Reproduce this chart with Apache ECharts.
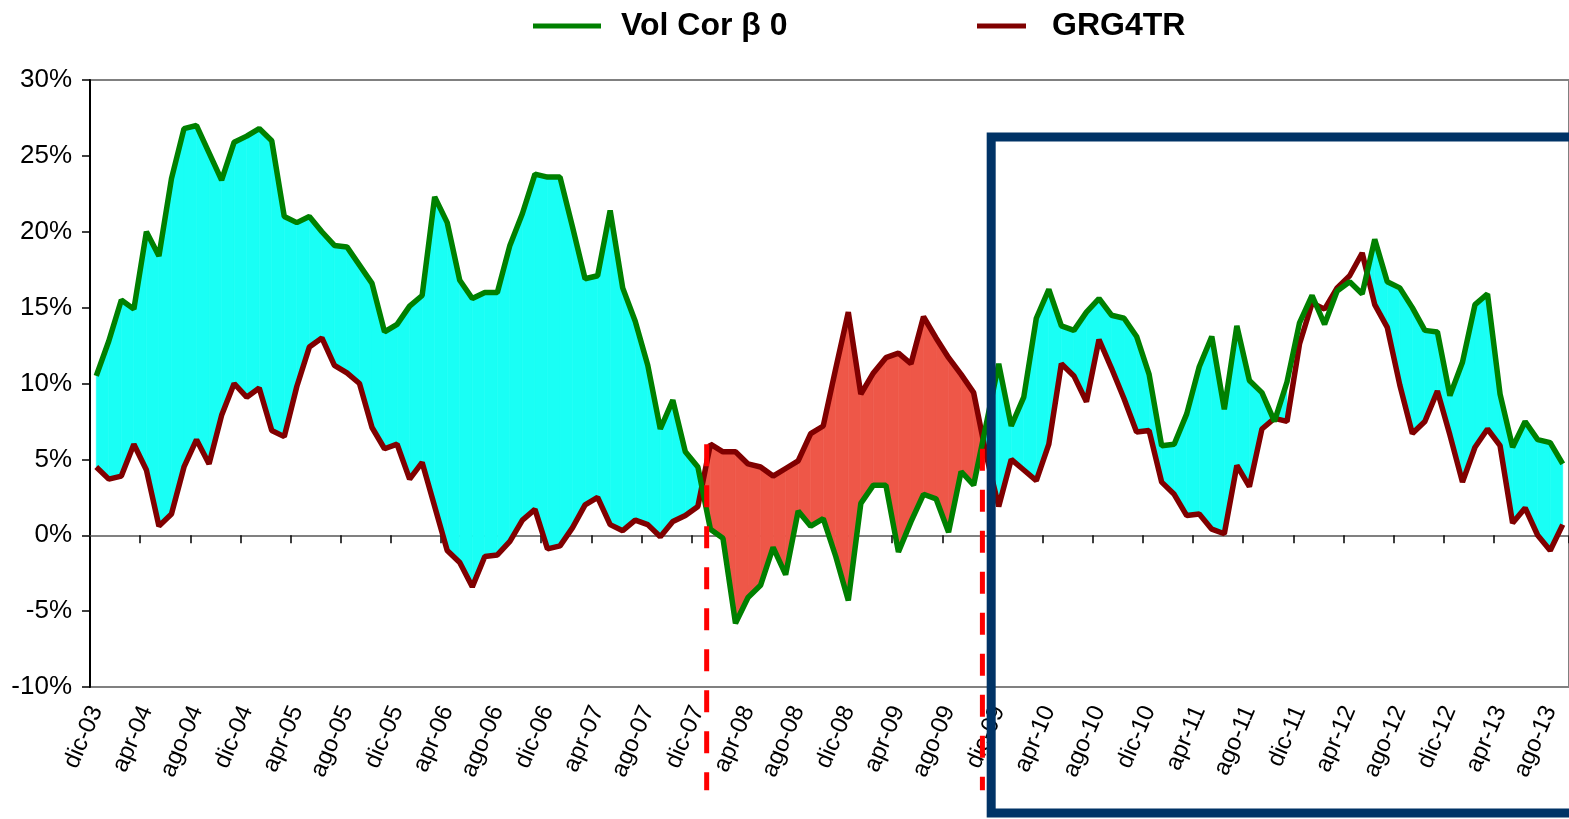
<!DOCTYPE html>
<html>
<head>
<meta charset="utf-8">
<script src="https://cdn.jsdelivr.net/npm/echarts@6/dist/echarts.min.js"></script>
<style>
  html, body { margin: 0; padding: 0; background: #fff; }
  #chart { width: 1569px; height: 819px; }
</style>
</head>
<body>
<div id="chart"></div>
<script>
// mesi: dic-03 ... set-13 (118 punti mensili)
const monthNames = ['gen', 'feb', 'mar', 'apr', 'mag', 'giu', 'lug', 'ago', 'set', 'ott', 'nov', 'dic'];
const months = [];
for (let k = 11; k < 11 + 118; k++) {
  months.push(monthNames[k % 12] + '-' + String(3 + Math.floor(k / 12)).padStart(2, '0'));
}

// Vol Cor β 0 (%)
const volCor = [
  10.5, 12.8, 15.5, 14.9, 20.0, 18.4, 23.5, 26.8, 27.0, 25.2,
  23.4, 25.9, 26.3, 26.8, 26.0, 21.0, 20.6, 21.0, 20.0, 19.1,
  19.0, 17.8, 16.6, 13.4, 13.9, 15.1, 15.8, 22.3, 20.6, 16.8,
  15.6, 16.0, 16.0, 19.1, 21.2, 23.8, 23.6, 23.6, 20.3, 16.9,
  17.1, 21.4, 16.3, 14.1, 11.2, 7.0, 8.9, 5.5, 4.5, 0.4,
  -0.2, -5.8, -4.1, -3.3, -0.8, -2.6, 1.6, 0.6, 1.1, -1.4,
  -4.3, 2.1, 3.3, 3.3, -1.1, 0.9, 2.7, 2.4, 0.2, 4.2,
  3.3, 7.3, 11.3, 7.2, 9.1, 14.3, 16.2, 13.8, 13.5, 14.7,
  15.6, 14.5, 14.3, 13.1, 10.6, 5.9, 6.0, 8.0, 11.1, 13.1,
  8.3, 13.8, 10.2, 9.4, 7.5, 10.1, 14.0, 15.8, 13.9, 16.1,
  16.7, 15.9, 19.5, 16.7, 16.3, 15.0, 13.5, 13.4, 9.2, 11.4,
  15.2, 15.9, 9.3, 5.8, 7.5, 6.3, 6.1, 4.7
];

// GRG4TR (%)
const grg = [
  4.5, 3.7, 3.9, 6.0, 4.3, 0.6, 1.4, 4.5, 6.3, 4.7,
  7.9, 10.0, 9.1, 9.7, 6.9, 6.5, 9.8, 12.4, 13.0, 11.2,
  10.7, 10.0, 7.1, 5.7, 6.0, 3.7, 4.8, 1.9, -1.0, -1.8,
  -3.4, -1.4, -1.3, -0.4, 1.0, 1.7, -0.9, -0.7, 0.5, 2.0,
  2.5, 0.7, 0.3, 1.0, 0.7, -0.1, 0.9, 1.3, 1.9, 6.0,
  5.5, 5.5, 4.7, 4.5, 3.9, 4.4, 4.9, 6.7, 7.2, 11.0,
  14.7, 9.3, 10.7, 11.7, 12.0, 11.3, 14.4, 13.0, 11.7, 10.6,
  9.4, 5.3, 1.9, 5.0, 4.3, 3.6, 6.0, 11.3, 10.5, 8.8,
  12.9, 11.0, 9.0, 6.8, 6.9, 3.5, 2.7, 1.3, 1.4, 0.4,
  0.1, 4.6, 3.2, 7.0, 7.7, 7.5, 12.6, 15.3, 14.9, 16.3,
  17.1, 18.6, 15.2, 13.7, 9.9, 6.7, 7.5, 9.5, 6.6, 3.5,
  5.8, 7.0, 5.9, 0.8, 1.8, 0.0, -1.0, 0.7
];

// fasce (indici dei mesi): crisi con area rossa, tratto senza riempimento
const crisisSpan = [48, 71];
const blankSpan = [95, 101];
// annotazioni: linee tratteggiate e riquadro (indice mese, valore %)
const dashAt = [48.7, 70.7];
const dashTop = [6.0, 5.7];
const dashBottom = -16.8;
const boxCorner = [71.4, 26.25, -18.3];

const CYAN = '#19FFF5';
const SALMON = '#EE5748';

function renderGap(params, api) {
  const i = api.value(0);
  if (i >= months.length - 1) return null;
  if (i >= blankSpan[0] && i < blankSpan[1]) return null;
  const inCrisis = i >= crisisSpan[0] && i < crisisSpan[1];
  const a0 = api.coord([i, volCor[i]]);
  const a1 = api.coord([i + 1, volCor[i + 1]]);
  const b0 = api.coord([i, grg[i]]);
  const b1 = api.coord([i + 1, grg[i + 1]]);
  const d0 = volCor[i] - grg[i];
  const d1 = volCor[i + 1] - grg[i + 1];
  const children = [];
  const add = (pts, greenUp) => {
    const fill = greenUp ? CYAN : (inCrisis ? SALMON : null);
    if (!fill) return;
    children.push({ type: 'polygon', shape: { points: pts }, style: { fill: fill, stroke: fill, lineWidth: 0.6 } });
  };
  if (d0 * d1 >= 0) {
    add([a0, a1, b1, b0], d0 + d1 > 0);
  } else {
    const t = d0 / (d0 - d1);
    const c = [a0[0] + t * (a1[0] - a0[0]), a0[1] + t * (a1[1] - a0[1])];
    add([a0, c, b0], d0 > 0);
    add([c, a1, b1], d1 > 0);
  }
  return { type: 'group', children: children };
}

const chart = echarts.init(document.getElementById('chart'));
const font = 'Liberation Sans, Arial, sans-serif';
const legendText = { fontSize: 32, fontWeight: 'bold', fontFamily: font, color: '#000' };

chart.setOption({
  animation: false,
  grid: { left: 90, top: 80, width: 1483, height: 607, show: true, borderColor: '#808080', borderWidth: 2 },
  legend: [
    {
      data: ['Vol Cor β 0'],
      left: 528,
      top: 5,
      icon: 'rect',
      itemWidth: 68,
      itemHeight: 5,
      textStyle: Object.assign({ padding: [0, 0, 0, 15] }, legendText)
    },
    {
      data: ['GRG4TR'],
      left: 972,
      top: 5,
      icon: 'rect',
      itemWidth: 49,
      itemHeight: 5,
      textStyle: Object.assign({ padding: [0, 0, 0, 21] }, legendText)
    }
  ],
  xAxis: [
    {
      type: 'category',
      data: months,
      boundaryGap: true,
      axisLine: { onZero: true, lineStyle: { color: '#808080', width: 2 } },
      axisTick: { show: true, interval: 3, length: 8, lineStyle: { color: '#000', width: 1.5 } },
      axisLabel: { show: false },
      splitLine: { show: false }
    },
    {
      type: 'category',
      data: months,
      position: 'bottom',
      boundaryGap: true,
      axisLine: { show: false, onZero: false },
      axisTick: { show: false },
      axisLabel: { interval: 3, rotate: 67, fontSize: 24, fontFamily: font, color: '#000', margin: 20 },
      splitLine: { show: false }
    }
  ],
  yAxis: {
    type: 'value',
    min: -10,
    max: 30,
    interval: 5,
    axisLine: { show: true, lineStyle: { color: '#000', width: 2 } },
    axisTick: { show: true, length: 8, lineStyle: { color: '#000', width: 1.5 } },
    axisLabel: { formatter: '{value}%', fontSize: 26, fontFamily: font, color: '#000', margin: 18 },
    splitLine: { show: false }
  },
  series: [
    {
      type: 'custom',
      xAxisIndex: 0,
      silent: true,
      clip: true,
      z: 1,
      renderItem: renderGap,
      data: months.map((m, i) => [i, volCor[i]])
    },
    {
      name: 'GRG4TR',
      type: 'line',
      xAxisIndex: 0,
      data: grg,
      symbol: 'none',
      color: '#800000',
      lineStyle: { color: '#800000', width: 5.5 },
      z: 3
    },
    {
      name: 'Vol Cor β 0',
      type: 'line',
      xAxisIndex: 0,
      data: volCor,
      symbol: 'none',
      color: '#008000',
      lineStyle: { color: '#008000', width: 5.5 },
      z: 4
    }
  ]
});

// annotazioni posizionate tramite le scale del grafico
function toPx(idx, val) {
  const lo = Math.floor(idx);
  const p0 = chart.convertToPixel({ xAxisIndex: 0, yAxisIndex: 0 }, [lo, val]);
  const p1 = chart.convertToPixel({ xAxisIndex: 0, yAxisIndex: 0 }, [lo + 1, val]);
  return [p0[0] + (idx - lo) * (p1[0] - p0[0]), p0[1]];
}

const graphics = dashAt.map((idx, k) => {
  const top = toPx(idx, dashTop[k]);
  const bottom = toPx(idx, dashBottom);
  return {
    type: 'line',
    z: 100,
    shape: { x1: top[0], y1: top[1], x2: bottom[0], y2: bottom[1] },
    style: { stroke: '#FF0000', lineWidth: 5, lineDash: [22, 19] }
  };
});
const tl = toPx(boxCorner[0], boxCorner[1]);
const bl = toPx(boxCorner[0], boxCorner[2]);
graphics.push({
  type: 'rect',
  z: 101,
  shape: { x: tl[0], y: tl[1], width: 800, height: bl[1] - tl[1] },
  style: { fill: 'none', stroke: '#003366', lineWidth: 9 }
});
chart.setOption({ graphic: graphics });
</script>
</body>
</html>
